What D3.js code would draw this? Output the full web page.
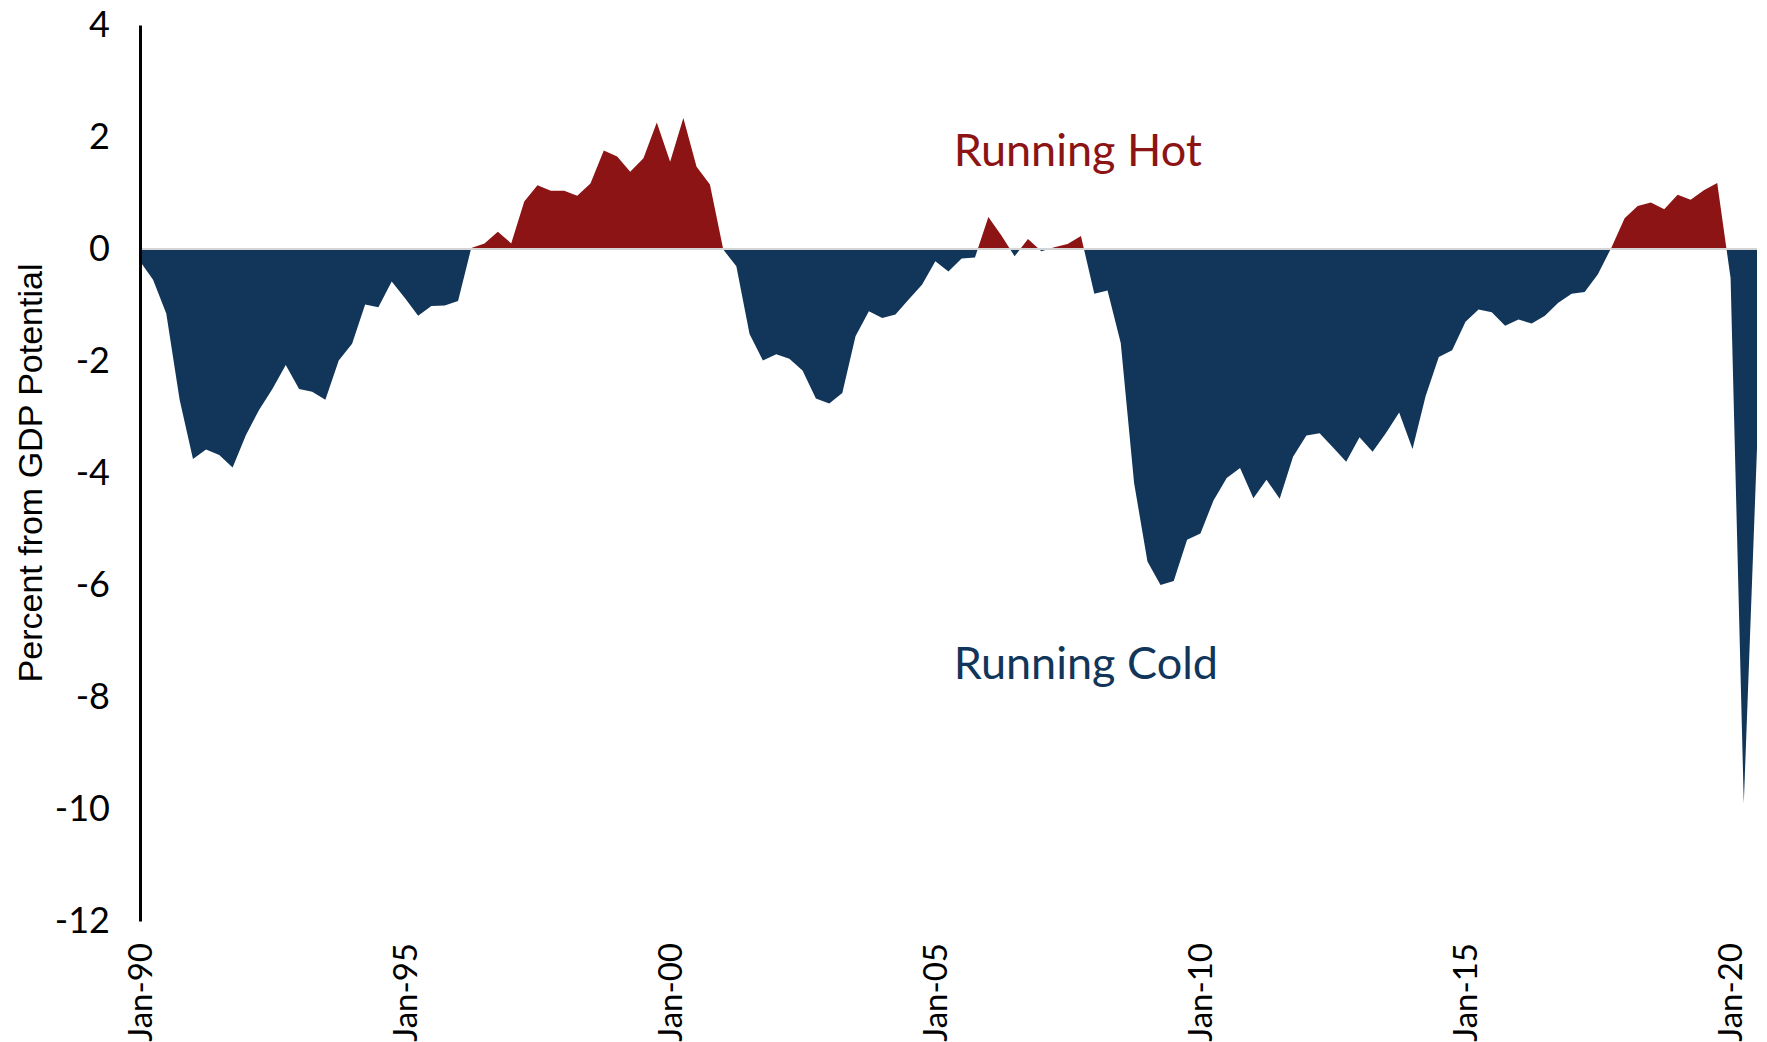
<!DOCTYPE html>
<html>
<head>
<meta charset="UTF-8">
<script src="https://cdn.jsdelivr.net/npm/d3@7/dist/d3.min.js"></script>
<style>
body{
    margin:0;
    background-color:#fff;
    font-family: "Lato", "Open Sans", sans-serif;
}
</style>
</head>
<body>
<script>

// output gap, quarterly from 1990Q1 (percent from GDP potential)
var startYear = 1990;
var gap = [-0.22, -0.55, -1.15, -2.69, -3.75, -3.58, -3.68, -3.90, -3.32, -2.87,
           -2.50, -2.07, -2.50, -2.55, -2.69, -1.99, -1.69, -0.99, -1.04, -0.58,
           -0.88, -1.19, -1.02, -1.01, -0.93, 0.02, 0.10, 0.31, 0.10, 0.85,
           1.14, 1.04, 1.04, 0.95, 1.17, 1.76, 1.65, 1.38, 1.62, 2.26,
           1.56, 2.34, 1.47, 1.15, -0.01, -0.31, -1.52, -1.99, -1.88, -1.96,
           -2.17, -2.67, -2.76, -2.57, -1.56, -1.11, -1.23, -1.17, -0.90, -0.64,
           -0.22, -0.40, -0.17, -0.15, 0.57, 0.24, -0.13, 0.18, -0.04, 0.03,
           0.09, 0.23, -0.80, -0.74, -1.68, -4.18, -5.58, -6.00, -5.93, -5.19,
           -5.08, -4.49, -4.09, -3.91, -4.45, -4.12, -4.46, -3.71, -3.33, -3.29,
           -3.54, -3.80, -3.36, -3.62, -3.29, -2.92, -3.57, -2.63, -1.93, -1.81,
           -1.30, -1.08, -1.13, -1.37, -1.26, -1.33, -1.19, -0.96, -0.80, -0.77,
           -0.45, 0.02, 0.55, 0.77, 0.83, 0.71, 0.97, 0.88, 1.05, 1.18,
           -0.52, -9.90, -3.56];
var yTicks = [4, 2, 0, -2, -4, -6, -8, -10, -12];
var tickYears = [1990, 1995, 2000, 2005, 2010, 2015, 2020];
var annotations = [{text:"Running Hot", x:new Date(2005, 6, 1), y:1.48, color:"#8c1414"},
                   {text:"Running Cold", x:new Date(2005, 6, 1), y:-7.67, color:"#12365a"}];

var data = gap.map(function(v, i){
    return {date: new Date(startYear + Math.floor(i/4), (i%4)*3, 1), v: v};
});

var width = 1767,
    height = 1042,
    margin = {top: 25, right: 10, bottom: 121, left: 140};

var hot = "#8c1414", cold = "#12365a";

var x = d3.scaleTime()
    .domain([data[0].date, data[data.length-1].date])
    .range([margin.left, width - margin.right]);
var y = d3.scaleLinear()
    .domain([-12, 4])
    .range([height - margin.bottom, margin.top]);

var svg = d3.select("body").append("svg")
    .attr("width", width)
    .attr("height", height);

var defs = svg.append("defs");
defs.append("clipPath").attr("id", "above")
  .append("rect")
    .attr("x", 0).attr("y", 0)
    .attr("width", width).attr("height", y(0));
defs.append("clipPath").attr("id", "below")
  .append("rect")
    .attr("x", 0).attr("y", y(0))
    .attr("width", width).attr("height", height - y(0));

var area = d3.area()
    .x(function(d){ return x(d.date); })
    .y0(y(0))
    .y1(function(d){ return y(d.v); });

svg.append("path")
    .datum(data)
    .attr("clip-path", "url(#below)")
    .attr("fill", cold)
    .attr("d", area);

svg.append("path")
    .datum(data)
    .attr("clip-path", "url(#above)")
    .attr("fill", hot)
    .attr("d", area);

// zero line
svg.append("line")
    .attr("x1", margin.left)
    .attr("x2", width - margin.right)
    .attr("y1", y(0))
    .attr("y2", y(0))
    .attr("stroke", "#d4d4d4")
    .attr("stroke-width", 2);

// y axis
var yAxis = d3.axisLeft(y)
    .tickValues(yTicks)
    .tickFormat(function(d){ return String(d); })
    .tickSize(0)
    .tickPadding(30);

var gY = svg.append("g")
    .attr("transform", "translate(" + margin.left + ",0)")
    .call(yAxis);
gY.select(".domain").attr("stroke", "#000").attr("stroke-width", 3);
gY.selectAll("text")
    .attr("font-family", "Lato, sans-serif")
    .attr("font-size", 36)
    .attr("fill", "#000");

// x labels
svg.selectAll(".xlabel")
    .data(tickYears)
    .enter().append("text")
    .attr("class", "xlabel")
    .attr("transform", function(d){ return "translate(" + x(new Date(d, 0, 1)) + "," + (y(-12) + 22) + ") rotate(-90)"; })
    .attr("text-anchor", "end")
    .attr("dy", "0.36em")
    .attr("font-size", 33)
    .attr("fill", "#000")
    .text(function(d){ return d3.timeFormat("%b-%y")(new Date(d, 0, 1)); });

// y axis title
svg.append("text")
    .attr("transform", "translate(30," + (y(-4)) + ") rotate(-90)")
    .attr("text-anchor", "middle")
    .attr("dy", "0.36em")
    .attr("font-family", "Liberation Sans, Arial, sans-serif")
    .attr("font-size", 34)
    .attr("fill", "#000")
    .text("Percent from GDP Potential");

svg.selectAll(".note")
    .data(annotations)
    .enter().append("text")
    .attr("class", "note")
    .attr("x", function(d){ return x(d.x) - 8; })
    .attr("y", function(d){ return y(d.y); })
    .attr("font-size", 45)
    .attr("fill", function(d){ return d.color; })
    .text(function(d){ return d.text; });

</script>
</body>
</html>
